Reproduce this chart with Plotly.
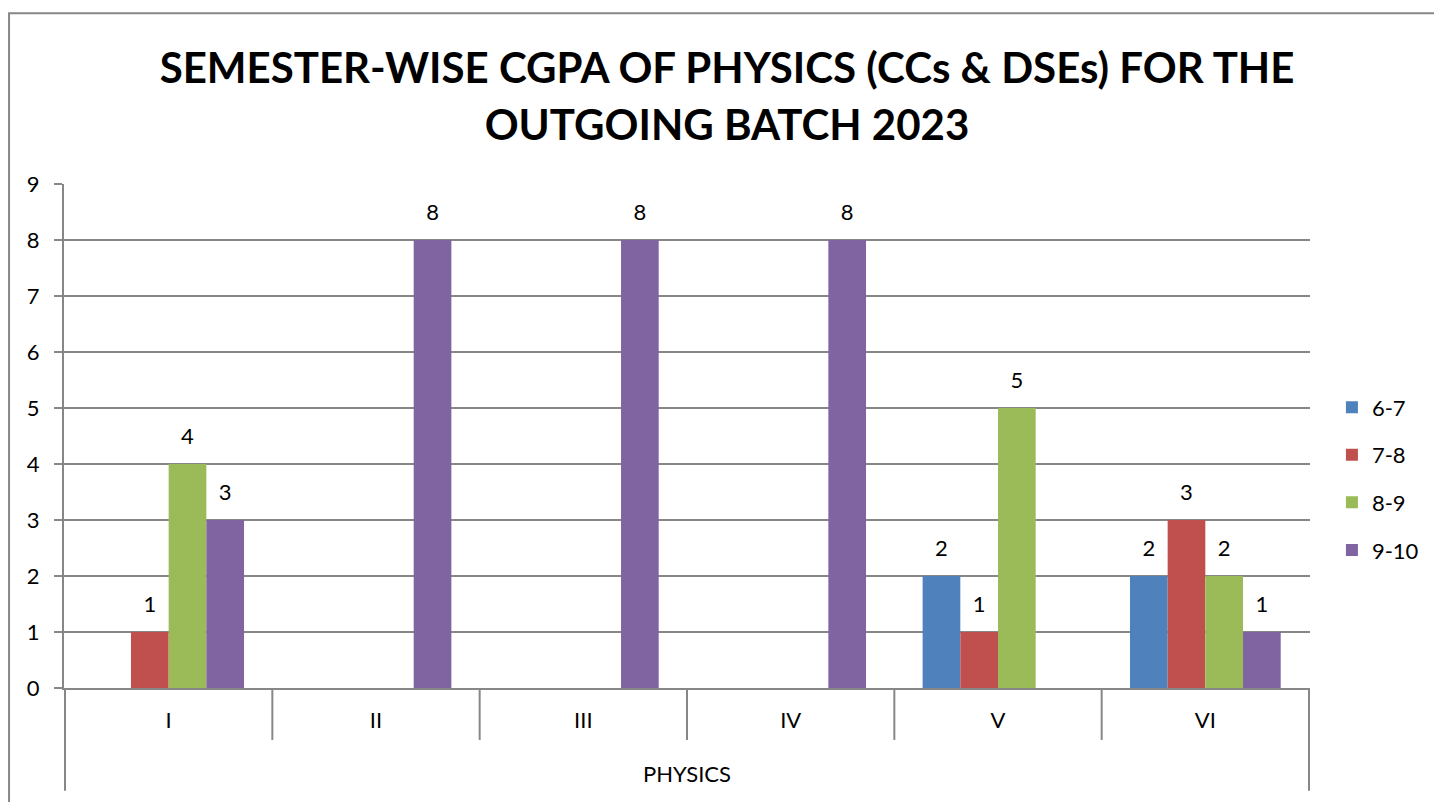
import plotly.graph_objects as go

semesters = ["I", "II", "III", "IV", "V", "VI"]
series_names = ["6-7", "7-8", "8-9", "9-10"]
v_6_7 = [0, 0, 0, 0, 2, 2]
v_7_8 = [1, 0, 0, 0, 1, 3]
v_8_9 = [4, 0, 0, 0, 5, 2]
v_9_10 = [3, 8, 8, 8, 0, 1]
series_values = [v_6_7, v_7_8, v_8_9, v_9_10]
colors = ["#4F81BD", "#C0504D", "#9BBB59", "#8064A2"]
y_ticks = list(range(0, 10))
title_lines = ["SEMESTER-WISE CGPA OF PHYSICS (CCs &amp; DSEs) FOR THE", "OUTGOING BATCH 2023"]

FONT = "Lato"
GRAY = "#878787"
FS = 22

fig = go.Figure()
for i, (name, vals, col) in enumerate(zip(series_names, series_values, colors)):
    labels = [f"<span style='font-size:{FS}px'>{v}</span><br><span style='font-size:2px'> </span>"
              if v else "" for v in vals]
    fig.add_trace(go.Bar(
        x=semesters, y=vals, name=name, marker_color=col,
        marker_line_width=0,
        text=labels, textposition="outside", cliponaxis=False,
        textfont=dict(family=FONT, size=13, color="black"),
        legendgroup=name,
    ))

# category divider lines (multi-level axis look)
n = len(semesters)
for k in range(n + 1):
    bx = k - 0.5
    y_end = -0.204 if k in (0, n) else -0.103
    fig.add_shape(type="line", xref="x", yref="paper", x0=bx, x1=bx,
                  y0=0, y1=y_end, line=dict(color=GRAY, width=2))

# chart border
fig.add_shape(type="rect", xref="paper", yref="paper", x0=-0.0441, x1=1.3,
              y0=-0.4, y1=1.339, line=dict(color=GRAY, width=2),
              fillcolor="rgba(0,0,0,0)", layer="below")

fig.add_annotation(text="PHYSICS", xref="paper", yref="paper", x=0.5, y=-0.169,
                   showarrow=False, yanchor="middle",
                   font=dict(family=FONT, size=FS, color="black"))

title_text = "<br>".join(f"<span style='font-size:42px'>{t}</span>" for t in title_lines)

fig.update_layout(
    width=1434, height=794,
    margin=dict(l=56, r=132, t=176, b=114),
    paper_bgcolor="white", plot_bgcolor="white",
    barmode="group", bargap=0.273, bargroupgap=0,
    title=dict(text=title_text,
               x=719 / 1434, xref="container", xanchor="center",
               y=1 - 75 / 794, yref="container", yanchor="top",
               font=dict(family=FONT, size=44, color="black", weight="bold")),
    font=dict(family=FONT, size=FS, color="black"),
    legend=dict(x=1.0176, xanchor="left", y=0.415, yanchor="middle",
                font=dict(family=FONT, size=FS), tracegroupgap=16,
                bgcolor="rgba(0,0,0,0)"),
    xaxis=dict(showgrid=False, showline=True, linecolor=GRAY, linewidth=2,
               ticks="outside", ticklen=12, tickcolor="rgba(0,0,0,0)",
               tickfont=dict(family=FONT, size=FS)),
    yaxis=dict(range=[0, 9], tickvals=y_ticks, showgrid=True, gridcolor=GRAY,
               gridwidth=2, showline=True, linecolor=GRAY, linewidth=2,
               ticks="outside", ticklen=8, tickcolor=GRAY, tickwidth=2,
               ticklabelstandoff=10, zeroline=False,
               tickfont=dict(family=FONT, size=FS)),
)

fig.write_html("out.html")
